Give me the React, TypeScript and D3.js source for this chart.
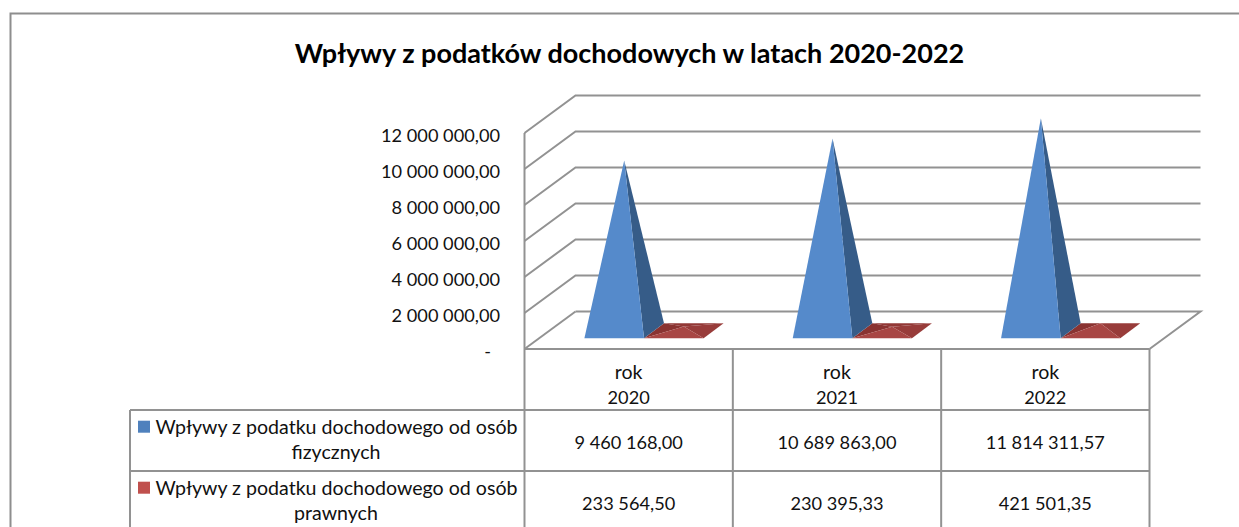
import React from "react";
import * as d3 from "d3";

const title = "Wpływy z podatków dochodowych w latach 2020-2022";
const categories = ["2020", "2021", "2022"];
const seriesNames = [
  ["Wpływy z podatku dochodowego od osób", "fizycznych"],
  ["Wpływy z podatku dochodowego od osób", "prawnych"],
];
const blueValues = [9460168.0, 10689863.0, 11814311.57];
const redValues = [233564.5, 230395.33, 421501.35];
const blueLabels = ["9 460 168,00", "10 689 863,00", "11 814 311,57"];
const redLabels = ["233 564,50", "230 395,33", "421 501,35"];
const tickValues = [0, 2000000, 4000000, 6000000, 8000000, 10000000, 12000000];
const tickLabels = ["-", "2 000 000,00", "4 000 000,00", "6 000 000,00", "8 000 000,00", "10 000 000,00", "12 000 000,00"];

const FONT = "Lato, Carlito, Calibri, sans-serif";
const GRID = "#929292";
const TEXT = "#111";

const DX = 51;
const DY = -37.5;

export default function App() {
  const x0 = 524.5;
  const x3 = 1149.5;
  const yFront0 = 349;
  const h = 216;
  const y = d3.scaleLinear().domain([0, 12000000]).range([yFront0, yFront0 - h]);
  const band = d3.scaleBand<string>().domain(categories).range([x0, x3]);
  const barW = 59.6;
  const lead = 59.9;
  const baseFrontY = 338.3;
  const baseDX = 20;
  const baseDY = -15;
  const h0 = y(0);
  const pyramid = (left: number, value: number) => {
    const midY = baseFrontY + baseDY / 2;
    const apex: [number, number] = [left + barW / 2 + baseDX / 2, midY - (h0 - y(value))];
    const fl: [number, number] = [left, baseFrontY];
    const fr: [number, number] = [left + barW, baseFrontY];
    const bl: [number, number] = [left + baseDX, baseFrontY + baseDY];
    const br: [number, number] = [left + barW + baseDX, baseFrontY + baseDY];
    return { apex, fl, fr, bl, br };
  };
  const pts = (a: [number, number][]) => a.map((p) => p.join(",")).join(" ");
  const rowY = [410, 471, 533];
  const colX = [130, x0, band("2021")!, band("2022")!, x3];

  return (
    <svg width={1239} height={527} style={{ position: "absolute", left: 0, top: 0, background: "#fff" }} fontFamily={FONT}>
      <path d="M10.5,527V13.5H1239" fill="none" stroke="#8e8e8e" strokeWidth={2} />
      <text x={629.5} y={63} textAnchor="middle" fontSize={27} fontWeight={700} fill="#000">{title}</text>

      {tickValues.map((t, i) => {
        const yy = y(t);
        return (
          <g key={t}>
            <path
              d={i === 0
                ? `M${x0},${yy}L${x0 + DX},${yy + DY}`
                : `M${x0},${yy}L${x0 + DX},${yy + DY}H${x3 + DX}`}
              fill="none" stroke={GRID} strokeWidth={2}
            />
            <text x={t === 0 ? 491 : 500} y={yy + 8.5} textAnchor="end" fontSize={18.2} fill={TEXT}>{tickLabels[i]}</text>
          </g>
        );
      })}
      <line x1={x0} x2={x0} y1={y(12000000)} y2={yFront0} stroke={GRID} strokeWidth={2} />
      <path d={`M${x0 + DX},${y(0) + DY}H${x3 + DX}L${x3},${y(0)}`} fill="none" stroke={GRID} strokeWidth={2} />

      {categories.map((c, i) => {
        const left = band(c)! + lead;
        const b = pyramid(left, blueValues[i]);
        const r = pyramid(left + barW, redValues[i]);
        return (
          <g key={c}>
            <polygon points={pts([r.bl, r.br, r.apex])} fill="#923836" />
            <polygon points={pts([r.fl, r.bl, r.apex])} fill="#8a3331" />
            <polygon points={pts([r.fr, r.br, r.apex])} fill="#983c3a" />
            <polygon points={pts([r.fl, r.fr, r.apex])} fill="#a84644" />
            <polygon points={pts([b.fr, b.br, b.apex])} fill="#365c88" />
            <polygon points={pts([b.fl, b.fr, b.apex])} fill="#558acb" />
          </g>
        );
      })}

      <g stroke={GRID} strokeWidth={2} fill="none">
        <line x1={x0} x2={x3} y1={yFront0} y2={yFront0} />
        {rowY.map((ry) => <line key={ry} x1={colX[0]} x2={x3} y1={ry} y2={ry} />)}
        <line x1={colX[0]} x2={colX[0]} y1={rowY[0]} y2={533} />
        {colX.slice(1).map((cx) => <line key={cx} x1={cx} x2={cx} y1={yFront0} y2={533} />)}
      </g>

      {categories.map((c, i) => {
        const cx = band(c)! + band.bandwidth() / 2;
        return (
          <g key={c} textAnchor="middle" fill={TEXT}>
            <text x={cx} y={379} fontSize={19.6}>rok</text>
            <text x={cx} y={404} fontSize={18.2}>{c}</text>
            <text x={cx} y={449} fontSize={18.2}>{blueLabels[i]}</text>
            <text x={cx} y={510} fontSize={18.2}>{redLabels[i]}</text>
          </g>
        );
      })}

      {seriesNames.map((lines, i) => {
        const top = rowY[i];
        return (
          <g key={i} fontSize={19.6} fill={TEXT} textAnchor="middle">
            <rect x={138} y={top + 10.7} width={12} height={12} fill={i === 0 ? "#4f81bd" : "#c0504d"} />
            <text x={336.5} y={top + 24}>{lines[0]}</text>
            <text x={336} y={top + 48.5}>{lines[1]}</text>
          </g>
        );
      })}
    </svg>
  );
}
